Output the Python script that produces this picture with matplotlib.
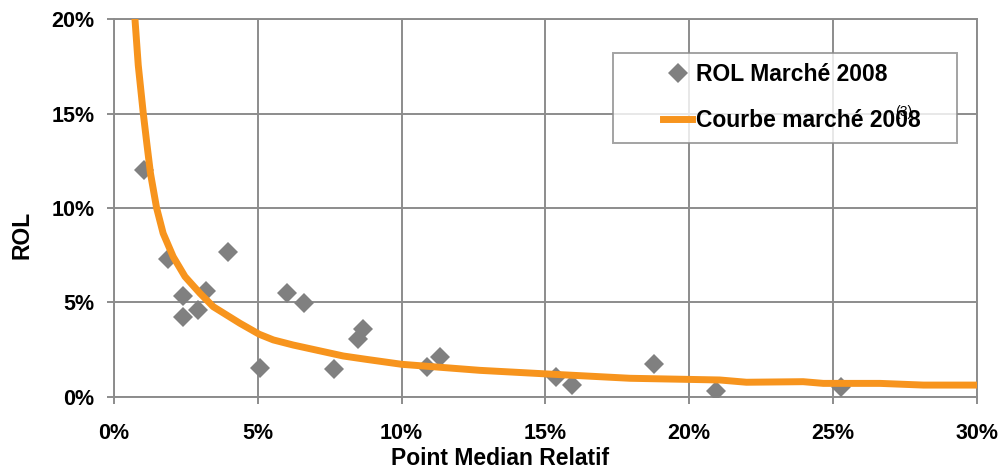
import numpy as np
import matplotlib
matplotlib.use("Agg")
import matplotlib.pyplot as plt
from matplotlib.ticker import FuncFormatter
from matplotlib.legend_handler import HandlerLine2D

# ROL points (x = point median relatif, y = ROL), both in %
rol_x = [1.06, 1.89, 3.98, 2.41, 3.20, 2.91, 2.39, 5.06, 6.01, 6.61, 7.66,
         8.67, 8.47, 10.88, 11.32, 15.38, 15.93, 18.76, 20.94, 25.28]
rol_y = [12.03, 7.32, 7.67, 5.35, 5.61, 4.59, 4.24, 1.55, 5.51, 4.95, 1.50,
         3.59, 3.05, 1.57, 2.10, 1.07, 0.63, 1.73, 0.33, 0.51]

# market curve
curve_x = [0.73, 0.845, 1.02, 1.14, 1.27, 1.48, 1.71, 2.06, 2.47, 2.99, 3.45,
           4.38, 5.05, 5.54, 6.23, 7.97, 8.78, 10.0, 12.72, 15.04, 17.94,
           21.06, 21.99, 23.96, 24.66, 26.63, 28.14, 30.0]
curve_y = [20.0, 17.55, 15.0, 13.45, 11.83, 10.02, 8.66, 7.42, 6.37, 5.49, 4.78,
           3.90, 3.32, 3.02, 2.75, 2.17, 1.99, 1.73, 1.41, 1.22, 0.99,
           0.90, 0.78, 0.81, 0.72, 0.72, 0.63, 0.63]

GREY = "#808080"
ORANGE = "#F7941D"
GRID = "#8c8c8c"


class ShiftedHandler(HandlerLine2D):
    """Draw the legend handle only in the right part of the handle box."""
    def __init__(self, shift, **kw):
        super().__init__(**kw)
        self.shift = shift

    def create_artists(self, legend, orig_handle, xdescent, ydescent,
                       width, height, fontsize, trans):
        return super().create_artists(legend, orig_handle,
                                      xdescent - self.shift, ydescent,
                                      width - self.shift, height,
                                      fontsize, trans)


plt.rcParams["font.family"] = ["Liberation Sans", "DejaVu Sans"]
plt.rcParams["font.weight"] = "bold"

fig = plt.figure(figsize=(10.04, 4.73), dpi=100)
ax = fig.add_axes([0.1135, 0.1607, 0.8595, 0.7991])

pts, = ax.plot(rol_x, rol_y, linestyle="none", marker="D", ms=10, color=GREY,
               markeredgewidth=0, label="ROL Marché 2008", zorder=3)
crv, = ax.plot(curve_x, curve_y, color=ORANGE, lw=5, solid_joinstyle="round",
               label="Courbe marché 2008", zorder=4)

ax.set_xlim(0, 30)
ax.set_ylim(0, 20)
ax.set_xticks(np.arange(0, 31, 5))
ax.set_yticks(np.arange(0, 21, 5))
pct = FuncFormatter(lambda v, p: f"{v:.0f}%")
ax.xaxis.set_major_formatter(pct)
ax.yaxis.set_major_formatter(pct)
ax.grid(True, color=GRID, lw=1.4)
ax.set_axisbelow(True)
for s in ax.spines.values():
    s.set_color(GRID)
    s.set_linewidth(1.4)
ax.tick_params(axis="both", colors=GRID, length=5, width=1.4,
               labelcolor="black", labelsize=15.5)
ax.tick_params(axis="x", pad=14)
ax.tick_params(axis="y", pad=9)
for lab in ax.get_xticklabels() + ax.get_yticklabels():
    lab.set_fontweight("bold")

ax.set_xlabel("Point Median Relatif", fontsize=16.5, fontweight="bold")
ax.xaxis.set_label_coords((500 - 114) / 863, -0.163)
ax.set_ylabel("ROL", fontsize=16.5, fontweight="bold")
ax.yaxis.set_label_coords((22 - 114) / 863, 0.4286)
ax.xaxis.label.set_va("center")
ax.yaxis.label.set_va("center")

leg = ax.legend(handles=[pts, crv],
                loc="upper left", bbox_to_anchor=(0.5782, 0.683, 0.3986, 0.227),
                mode="expand", fontsize=16.5, frameon=True, fancybox=False,
                borderpad=0.45, labelspacing=1.0, handlelength=3.0,
                handletextpad=0.17, borderaxespad=0,
                handler_map={pts: ShiftedHandler(29, numpoints=1),
                             crv: ShiftedHandler(29)})
leg.get_frame().set_edgecolor(GRID)
leg.get_frame().set_linewidth(1.4)
for t in leg.get_texts():
    t.set_fontweight("bold")

# stray footnote mark overlapping the legend text, as in the original
fig.text(904 / 1004, 1 - 112 / 473, "(3)", fontsize=10, fontweight="normal",
         ha="center", va="center")

fig.savefig("out.png", dpi=100)
